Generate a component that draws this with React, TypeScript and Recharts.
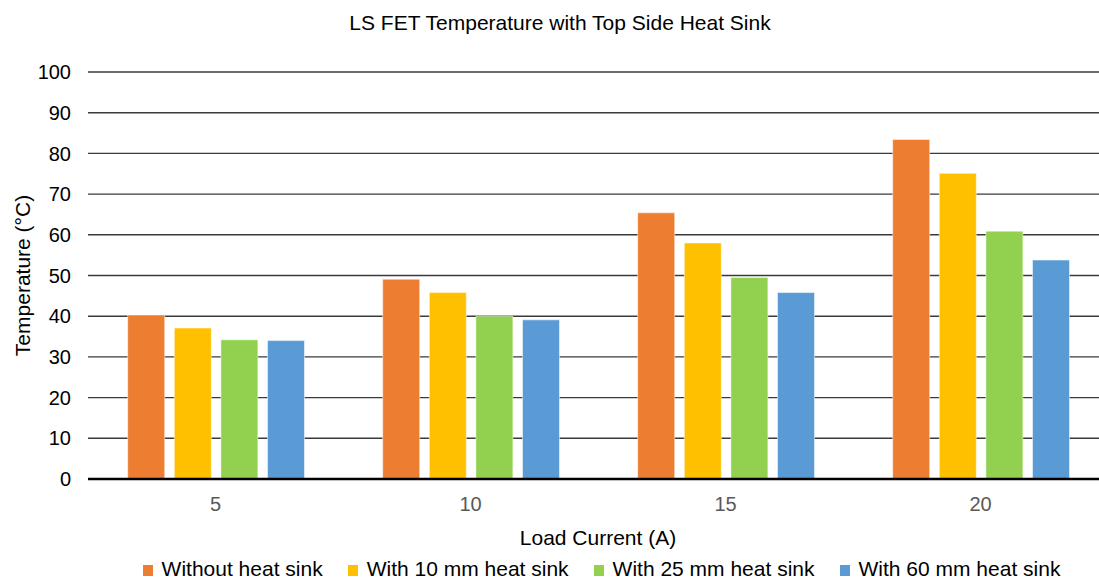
import { BarChart, Bar, XAxis, YAxis, CartesianGrid, Legend } from 'recharts'

// Load current (A) on the x axis
const currents = ['5', '10', '15', '20']

// LS FET temperature (°C) per heat sink option
const withoutSink = [40.3, 49.1, 65.4, 83.4]
const sink10mm = [37.1, 45.8, 58.0, 75.1]
const sink25mm = [34.2, 40.0, 49.5, 60.9]
const sink60mm = [34.0, 39.1, 45.8, 53.8]

const yTicks = [0, 10, 20, 30, 40, 50, 60, 70, 80, 90, 100]

const series = [
  { key: 'without', name: 'Without heat sink', color: '#ED7D31', values: withoutSink },
  { key: 'mm10', name: 'With 10 mm heat sink', color: '#FFC000', values: sink10mm },
  { key: 'mm25', name: 'With 25 mm heat sink', color: '#92D050', values: sink25mm },
  { key: 'mm60', name: 'With 60 mm heat sink', color: '#5B9BD5', values: sink60mm },
]

const chartData = currents.map((c, i) => {
  const row: Record<string, string | number> = { current: c }
  series.forEach((s) => {
    row[s.key] = s.values[i]
  })
  return row
})

const FONT = '"Liberation Sans", Arial, Helvetica, sans-serif'

function renderLegend() {
  return (
    <div
      style={{
        display: 'flex',
        justifyContent: 'center',
        gap: 25,
        fontFamily: FONT,
        fontSize: 21,
        lineHeight: '26px',
        color: '#000',
        paddingLeft: 104,
        paddingTop: 7,
      }}
    >
      {series.map((s) => (
        <div key={s.key} style={{ display: 'flex', alignItems: 'baseline' }}>
          <span style={{ display: 'inline-block', width: 10, height: 11, background: s.color, marginRight: 9 }} />
          <span>{s.name}</span>
        </div>
      ))}
    </div>
  )
}

export default function App() {
  return (
    <div
      style={{
        position: 'absolute',
        left: 0,
        top: 0,
        width: 1099,
        height: 579,
        overflow: 'hidden',
        background: '#fff',
        fontFamily: FONT,
      }}
    >
      <div
        style={{
          position: 'absolute',
          top: 11,
          left: 560,
          transform: 'translateX(-50%)',
          whiteSpace: 'nowrap',
          fontSize: 21,
          color: '#000',
        }}
      >
        LS FET Temperature with Top Side Heat Sink
      </div>
      {/* plot runs a little past the right edge, as in the original */}
      <BarChart
        width={1108}
        height={579}
        data={chartData}
        margin={{ top: 72, right: 0, bottom: 4, left: 0 }}
        barGap={9.6}
        barCategoryGap={39.7}
      >
        <CartesianGrid horizontal vertical={false} stroke="#3a3a3a" strokeWidth={1.4} />
        <XAxis
          dataKey="current"
          height={70}
          tickSize={0}
          tickMargin={18}
          axisLine={{ stroke: '#000', strokeWidth: 2.5 }}
          tick={{ fontSize: 20, fill: '#595959', fontFamily: FONT }}
          label={{
            value: 'Load Current (A)',
            position: 'insideBottom',
            offset: 4,
            fontSize: 21,
            fill: '#000',
            fontFamily: FONT,
          }}
        />
        <YAxis
          width={88}
          domain={[0, 100]}
          ticks={yTicks}
          interval={0}
          tickSize={0}
          tickMargin={17}
          axisLine={false}
          tickLine={false}
          tick={{ fontSize: 20, fill: '#000', fontFamily: FONT }}
          label={{
            value: 'Temperature (°C)',
            angle: -90,
            position: 'insideLeft',
            offset: 23,
            fontSize: 21,
            fill: '#000',
            fontFamily: FONT,
            style: { textAnchor: 'middle' },
          }}
        />
        <Legend
          verticalAlign="bottom"
          height={26}
          wrapperStyle={{ left: 0, width: 1099 }}
          content={renderLegend}
        />
        {series.map((s) => (
          <Bar
            key={s.key}
            dataKey={s.key}
            name={s.name}
            fill={s.color}
            stroke="rgba(255,255,255,0.5)"
            strokeWidth={1}
            isAnimationActive={false}
          />
        ))}
      </BarChart>
    </div>
  )
}
